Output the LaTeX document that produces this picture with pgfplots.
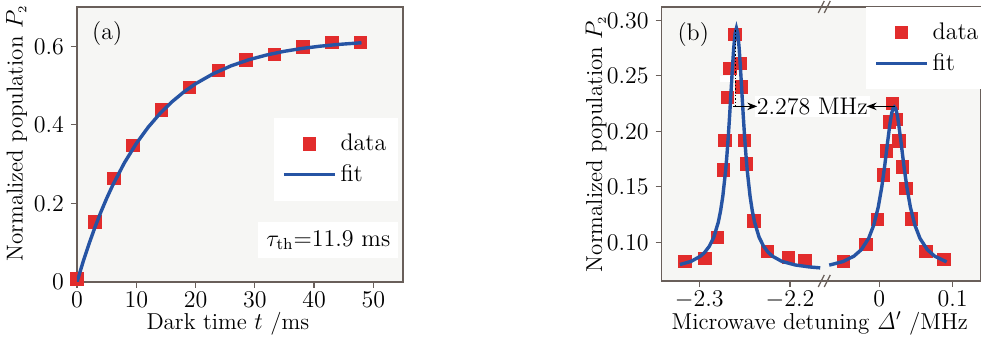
\documentclass[border=0pt]{standalone}
\usepackage{pgfplots}
\pgfplotsset{compat=1.18}
\usepackage{pgfplotstable}
\usetikzlibrary{arrows.meta}
\definecolor{dred}{RGB}{226,44,44}
\definecolor{fblue}{RGB}{38,84,164}
\definecolor{axc}{RGB}{105,95,90}
\definecolor{bgc}{RGB}{246,246,244}

\pgfplotstableread{
x y
0 0.008
3.0 0.153
6.2 0.264
9.4 0.347
14.2 0.438
19.0 0.496
23.9 0.538
28.5 0.565
33.3 0.579
38.1 0.598
43.0 0.610
47.8 0.610
}\dataA
\pgfplotstableread{
x y
0 0
1 0.0500
2 0.0959
3 0.1381
4 0.1770
5 0.2127
6 0.2455
8 0.3035
10 0.3524
12 0.3938
14 0.4289
16 0.4584
18 0.4834
20 0.5046
23 0.5303
26 0.5503
29 0.5658
32 0.5779
35 0.5873
38 0.5946
41 0.6002
44 0.6046
48 0.6090
}\fitA

\pgfplotstableread{
x y
-2.3158 0.0826
-2.2938 0.0856
-2.2798 0.1045
-2.2735 0.1651
-2.2717 0.1921
-2.2691 0.2304
-2.2662 0.2565
-2.2607 0.2874
-2.2551 0.2610
-2.2533 0.2400
-2.2504 0.1921
-2.2478 0.1705
-2.2397 0.1192
-2.2250 0.0916
-2.2018 0.0865
-2.1835 0.0835
}\dataBL
\pgfplotstableread{
x y
-0.0491 0.0826
-0.0182 0.0982
-0.0027 0.1207
0.0055 0.1606
0.0100 0.1825
0.0136 0.2085
0.0182 0.2250
0.0236 0.2106
0.0268 0.1915
0.0318 0.1681
0.0364 0.1486
0.0441 0.1213
0.0636 0.0916
0.0882 0.0847
}\dataBR
\pgfplotstableread{
x y
-2.3213 0.0800
-2.309 0.0829
-2.299 0.0874
-2.294 0.0910
-2.289 0.0964
-2.284 0.1046
-2.279 0.1182
-2.2765 0.1283
-2.274 0.1417
-2.271 0.1641
-2.2695 0.1784
-2.268 0.1952
-2.2665 0.2143
-2.265 0.2352
-2.2635 0.2562
-2.262 0.2750
-2.2605 0.2882
-2.259 0.2930
-2.2575 0.2882
-2.256 0.2750
-2.2545 0.2562
-2.253 0.2352
-2.2515 0.2143
-2.250 0.1952
-2.2485 0.1784
-2.247 0.1641
-2.244 0.1417
-2.2415 0.1283
-2.239 0.1182
-2.234 0.1046
-2.229 0.0964
-2.224 0.0910
-2.219 0.0874
-2.209 0.0829
-2.194 0.0796
-2.179 0.0779
-2.1666 0.0770
}\fitBL
\pgfplotstableread{
x y
-0.0682 0.0795
-0.0495 0.0827
-0.0345 0.0876
-0.0245 0.0934
-0.0145 0.1036
-0.0075 0.1156
-0.0015 0.1314
0.0035 0.1502
0.0075 0.1694
0.0115 0.1911
0.0145 0.2064
0.0160 0.2128
0.0175 0.2178
0.0190 0.2209
0.0205 0.2220
0.0220 0.2209
0.0235 0.2178
0.0250 0.2128
0.0265 0.2064
0.0295 0.1911
0.0335 0.1694
0.0375 0.1502
0.0425 0.1314
0.0485 0.1156
0.0555 0.1036
0.0655 0.0934
0.0755 0.0876
0.0918 0.0824
}\fitBR

\pgfplotsset{
  common/.style={
    scale only axis, anchor=south west,
    tick align=outside, xtick pos=bottom, ytick pos=left,
    major tick length=3pt,
    axis line style={axc, line width=0.8pt},
    tick style={axc, line width=0.6pt},
    axis background/.style={fill=bgc},
    tick label style={font=\fontsize{12}{14}\selectfont},
    xticklabel style={inner sep=1pt, yshift=-1pt},
    label style={font=\fontsize{11.5}{13}\selectfont, inner sep=0pt},
    legend cell align=left,
    legend image code/.code={\draw[mark repeat=2,mark phase=2,##1] plot coordinates {(0pt,0pt) (12.75pt,0pt) (25.5pt,0pt)};},
    legend style={draw=none, fill=white, row sep=1.5pt, inner xsep=4pt, inner ysep=6pt, font=\fontsize{12}{14}\selectfont},
    clip mode=individual,
  },
  datast/.style={only marks, mark=square*, mark size=3.1pt, color=dred, mark options={draw=dred, fill=dred}},
  fitst/.style={no marks, color=fblue, line width=1.7pt},
}

\begin{document}
\begin{tikzpicture}[font=\fontsize{12}{14}\selectfont]
\path[use as bounding box] (0,0) rectangle (491pt,168.5pt);

\begin{axis}[common,
  at={(38.5pt,27.5pt)},
  width=163pt, height=137.5pt,
  xmin=0, xmax=55, ymin=0, ymax=0.7,
  xtick={0,10,...,50}, ytick={0,0.2,0.4,0.6},
  yticklabel style={/pgf/number format/fixed, /pgf/number format/precision=1},
  xlabel={Dark time $t$ /ms},
  ylabel={Normalized population $P_{\scriptscriptstyle 2}$},
  xlabel style={at={(axis description cs:0.463,-0.152)}, anchor=center},
  ylabel style={at={(axis description cs:-0.185,0.54)}, anchor=center},
  legend style={at={(axis cs:33.2,0.418)}, anchor=north west},
]
\addplot[datast] table[x=x,y=y] {\dataA};
\addlegendentry{data}
\addplot[fitst] table[x=x,y=y] {\fitA};
\addlegendentry{fit}
\node[fill=white, inner sep=4pt] at (axis cs:42.4,0.107) {$\tau_{\mathrm{th}}$=11.9 ms};
\node at (axis cs:5.1,0.633) {(a)};
\end{axis}

\begin{axis}[common,
  at={(330.8pt,28pt)},
  width=159.5pt, height=137pt,
  xmin=305, xmax=1262, ymin=0.0652, ymax=0.312,
  xtick={418,690,958,1178},
  xticklabels={$-2.3$,$-2.2$,$0$,$0.1$},
  ytick={0.10,0.15,0.20,0.25,0.30},
  yticklabel style={/pgf/number format/fixed, /pgf/number format/fixed zerofill, /pgf/number format/precision=2},
  xlabel={Microwave detuning $\mathit{\Delta}'$ /MHz},
  ylabel={Normalized population $P_{\scriptscriptstyle 2}$},
  xlabel style={at={(axis description cs:0.496,-0.154)}, anchor=center},
  ylabel style={at={(axis description cs:-0.205,0.5)}, anchor=center},
  legend style={at={(axis cs:918,0.3125)}, anchor=north west},
]
\addplot[datast] table[x expr={418+(\thisrow{x}+2.3)*2720}, y=y] {\dataBL};
\addlegendentry{data}
\addplot[fitst] table[x expr={418+(\thisrow{x}+2.3)*2720}, y=y] {\fitBL};
\addlegendentry{fit}
\addplot[datast, forget plot] table[x expr={958+\thisrow{x}*2200}, y=y] {\dataBR};
\addplot[fitst, forget plot] table[x expr={958+\thisrow{x}*2200}, y=y] {\fitBR};
\node at (axis cs:400,0.2875) {(b)};
\draw[black, densely dotted, line width=0.7pt] (axis cs:527,0.291) -- (axis cs:527,0.2225);
\node[fill=white, inner sep=1pt] at (axis cs:757,0.2225) {2.278 MHz};
\draw[-{Stealth[length=5pt]}, black, line width=0.6pt] (axis cs:520,0.2225) -- (axis cs:592,0.2225);
\draw[-{Stealth[length=5pt]}, black, line width=0.6pt] (axis cs:1005,0.2225) -- (axis cs:920,0.2225);
% axis breaks
\fill[white] (axis cs:784,0.312) ++(0,-1.5pt) rectangle ++(5pt,3pt);
\fill[white] (axis cs:784,0.0652) ++(0,-1.5pt) rectangle ++(5pt,3pt);
\draw[axc, line width=0.6pt] (axis cs:784,0.312) ++(-1.5pt,-3pt) -- ++(3pt,6pt);
\draw[axc, line width=0.6pt] (axis cs:784,0.312) ++(1.5pt,-3pt) -- ++(3pt,6pt);
\draw[axc, line width=0.6pt] (axis cs:784,0.0652) ++(-1.5pt,-3pt) -- ++(3pt,6pt);
\draw[axc, line width=0.6pt] (axis cs:784,0.0652) ++(1.5pt,-3pt) -- ++(3pt,6pt);
\end{axis}
\end{tikzpicture}
\end{document}
